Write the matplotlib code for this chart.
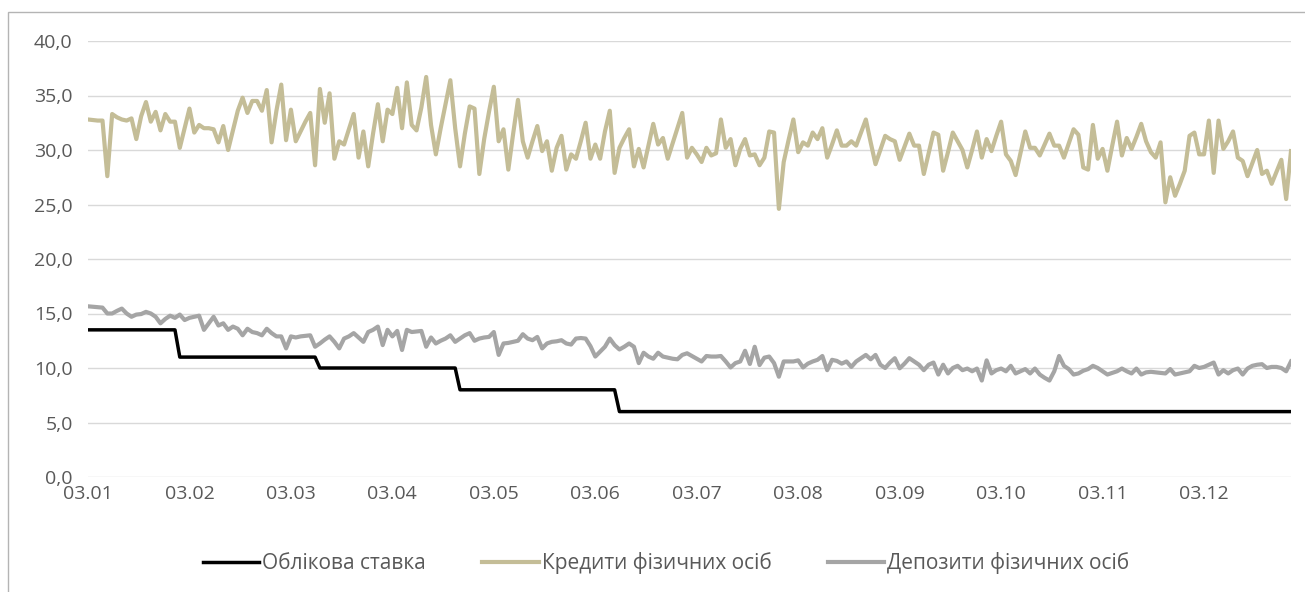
import numpy as np
import matplotlib
matplotlib.use("Agg")
import matplotlib.pyplot as plt
from matplotlib.patches import Rectangle

# ---------------- data ----------------
tick_labels = ["03.01", "03.02", "03.03", "03.04", "03.05", "03.06",
               "03.07", "03.08", "03.09", "03.10", "03.11", "03.12"]
tick_step = 21  # one label every 21 working days

y_ticks = [0, 5, 10, 15, 20, 25, 30, 35, 40]
y_tick_labels = ["0,0", "5,0", "10,0", "15,0", "20,0", "25,0", "30,0", "35,0", "40,0"]

series_names = ["Облікова ставка", "Кредити фізичних осіб", "Депозити фізичних осіб"]

# NBU discount rate per working day
key_rate = [13.5] * 19 + [11.0] * 29 + [10.0] * 29 + [8.0] * 33 + [6.0] * 140

credits = [
    32.8, 32.75, 32.7, 32.7, 27.6, 33.3, 33.0, 32.8, 32.7, 32.9,
    31.0, 33.1, 34.4, 32.6, 33.5, 31.8, 33.3, 32.6, 32.6, 30.2,
    32.0, 33.8, 31.6, 32.3, 32.0, 32.0, 31.9, 30.7, 32.2, 30.0,
    31.8, 33.6, 34.8, 33.4, 34.5, 34.5, 33.6, 35.5, 30.7, 33.6,
    36.0, 30.9, 33.7, 30.8, 31.7, 32.6, 33.4, 28.6, 35.6, 32.5,
    35.2, 29.2, 30.8, 30.5, 31.9, 33.3, 29.3, 31.7, 28.5, 31.5,
    34.2, 30.8, 33.7, 33.3, 35.7, 32.0, 36.2, 32.3, 31.8, 33.9,
    36.7, 32.3, 29.6, 32.0, 34.2, 36.4, 32.0, 28.5, 31.5, 34.0,
    33.8, 27.8, 31.0, 33.5, 35.8, 30.8, 31.9, 28.2, 31.5, 34.6,
    30.8, 29.3, 30.8, 32.2, 29.9, 30.8, 28.1, 30.2, 31.3, 28.2,
    29.6, 29.2, 30.8, 32.5, 29.2, 30.5, 29.2, 31.7, 33.6, 27.9,
    30.2, 31.1, 31.9, 28.5, 30.1, 28.4, 30.4, 32.4, 30.5, 31.1,
    29.2, 30.6, 32.0, 33.4, 29.3, 30.2, 29.6, 28.9, 30.2, 29.5,
    29.7, 32.8, 30.2, 31.0, 28.6, 30.1, 31.0, 29.5, 29.6, 28.6,
    29.3, 31.7, 31.6, 24.6, 28.9, 30.9, 32.8, 29.8, 30.7, 30.4,
    31.6, 31.0, 32.0, 29.3, 30.5, 31.8, 30.4, 30.4, 30.8, 30.4,
    31.6, 32.8, 30.7, 28.7, 30.0, 31.3, 31.0, 30.8, 29.1, 30.3,
    31.5, 30.4, 30.4, 27.8, 29.7, 31.6, 31.4, 28.1, 29.8, 31.6,
    30.8, 30.0, 28.4, 30.0, 31.7, 29.3, 31.0, 29.9, 31.3, 32.6,
    29.6, 29.0, 27.7, 29.7, 31.7, 30.2, 30.2, 29.5, 30.5, 31.5,
    30.4, 30.4, 29.3, 30.6, 31.9, 31.4, 28.4, 28.2, 32.3, 29.2,
    30.1, 28.1, 30.4, 32.6, 29.5, 31.1, 30.1, 31.2, 32.4, 30.8,
    29.8, 29.3, 30.7, 25.2, 27.5, 25.8, 26.9, 28.1, 31.3, 31.6,
    29.6, 29.6, 32.7, 27.9, 32.7, 30.1, 30.8, 31.7, 29.3, 29.0,
    27.6, 28.8, 30.0, 27.8, 28.1, 26.9, 28.0, 29.1, 25.5, 29.9,
]

deposits = [
    15.66, 15.62, 15.58, 15.54, 15.0, 15.0, 15.24, 15.45, 15.0, 14.7,
    14.9, 14.95, 15.15, 15.0, 14.7, 14.1, 14.5, 14.8, 14.6, 14.9,
    14.4, 14.6, 14.7, 14.8, 13.5, 14.1, 14.7, 13.9, 14.1, 13.5,
    13.8, 13.6, 13.0, 13.6, 13.3, 13.2, 13.0, 13.6, 13.2, 12.9,
    12.9, 11.8, 12.9, 12.8, 12.9, 12.95, 13.0, 11.95, 12.25, 12.6,
    12.9, 12.4, 11.8, 12.7, 12.9, 13.2, 12.8, 12.4, 13.3, 13.5,
    13.8, 12.1, 13.5, 12.9, 13.4, 11.65, 13.5, 13.3, 13.35, 13.4,
    11.95, 12.8, 12.25, 12.5, 12.7, 13.0, 12.4, 12.7, 13.0, 13.2,
    12.5, 12.7, 12.8, 12.85, 13.3, 11.2, 12.25, 12.3, 12.4, 12.5,
    13.1, 12.7, 12.55, 12.85, 11.8, 12.25, 12.4, 12.45, 12.55, 12.25,
    12.15, 12.7, 12.75, 12.7, 12.0, 11.05, 11.5, 11.95, 12.7, 12.1,
    11.7, 11.95, 12.25, 11.95, 10.45, 11.4, 11.05, 10.85, 11.4, 11.05,
    10.95, 10.85, 10.8, 11.2, 11.35, 11.1, 10.85, 10.6, 11.1, 11.05,
    11.05, 11.1, 10.6, 10.05, 10.45, 10.6, 11.58, 10.37, 11.95, 10.27,
    10.95, 11.05, 10.45, 9.2, 10.6, 10.6, 10.6, 10.7, 10.05, 10.4,
    10.6, 10.75, 11.1, 9.8, 10.75, 10.65, 10.4, 10.6, 10.1, 10.6,
    10.9, 11.2, 10.8, 11.2, 10.3, 10.0, 10.5, 10.9, 9.97, 10.4,
    10.9, 10.6, 10.3, 9.8, 10.3, 10.5, 9.4, 10.3, 9.5, 10.0,
    10.2, 9.8, 9.95, 9.7, 9.95, 8.85, 10.7, 9.5, 9.8, 9.95,
    9.7, 10.2, 9.5, 9.7, 9.9, 9.5, 9.95, 9.4, 9.1, 8.85,
    9.7, 11.1, 10.2, 9.9, 9.4, 9.5, 9.75, 9.9, 10.2, 10.0,
    9.7, 9.4, 9.55, 9.7, 9.95, 9.7, 9.5, 9.95, 9.4, 9.6,
    9.65, 9.6, 9.55, 9.5, 9.9, 9.4, 9.5, 9.6, 9.7, 10.2,
    10.0, 10.1, 10.3, 10.5, 9.4, 9.8, 9.5, 9.8, 9.95, 9.4,
    9.95, 10.2, 10.3, 10.35, 10.0, 10.1, 10.1, 10.0, 9.7, 10.6,
]

# ---------------- style ----------------
FONT = "Open Sans"
TXT = "#595959"
GRID = "#D9D9D9"
C_KEY = "#000000"
C_CRED = "#C4BD97"
C_DEP = "#A5A5A5"

W, H = 1305, 592
fig = plt.figure(figsize=(W / 100, H / 100), dpi=100)
fig.patch.set_facecolor("white")

# outer chart frame (top and left edges visible, the rest is cut off)
fig.patches.append(Rectangle((8 / W, -0.05), 1.1, 1.05 - 12 / H,
                             transform=fig.transFigure, fill=False,
                             edgecolor="#B4B4B4", linewidth=1.0))

ax = fig.add_axes([88 / W, 1 - 477 / H, (1291 - 88) / W, (477 - 41) / H])

n = len(credits)
x = np.arange(n)
ax.plot(np.arange(len(key_rate)), key_rate, color=C_KEY, lw=2.5,
        solid_joinstyle="round", label=series_names[0], zorder=3)
ax.plot(x, credits, color=C_CRED, lw=3.0, solid_joinstyle="round",
        label=series_names[1], zorder=3)
ax.plot(np.arange(len(deposits)), deposits, color=C_DEP, lw=3.0,
        solid_joinstyle="round", label=series_names[2], zorder=3)

ax.set_xlim(0, n - 1)
ax.set_ylim(0, 40)
ax.set_yticks(y_ticks)
ax.set_yticklabels(y_tick_labels)
ax.set_xticks(np.arange(len(tick_labels)) * tick_step)
ax.set_xticklabels(tick_labels)

ax.grid(axis="y", color=GRID, lw=1.0, zorder=0)
ax.set_axisbelow(True)
for s in ax.spines.values():
    s.set_visible(False)
ax.tick_params(axis="both", length=0, labelcolor=TXT, labelsize=14)
ax.tick_params(axis="y", pad=11)
ax.tick_params(axis="x", pad=6)
for lab in ax.get_xticklabels() + ax.get_yticklabels():
    lab.set_fontfamily(FONT)

leg = fig.legend(loc="center", bbox_to_anchor=(666 / W, 1 - 563 / H), ncol=3,
                 frameon=False, handlelength=2.7, handletextpad=0.15,
                 columnspacing=2.7,
                 prop={"family": FONT, "size": 15})
for t in leg.get_texts():
    t.set_color(TXT)

fig.savefig("out.png", dpi=100, facecolor="white")
